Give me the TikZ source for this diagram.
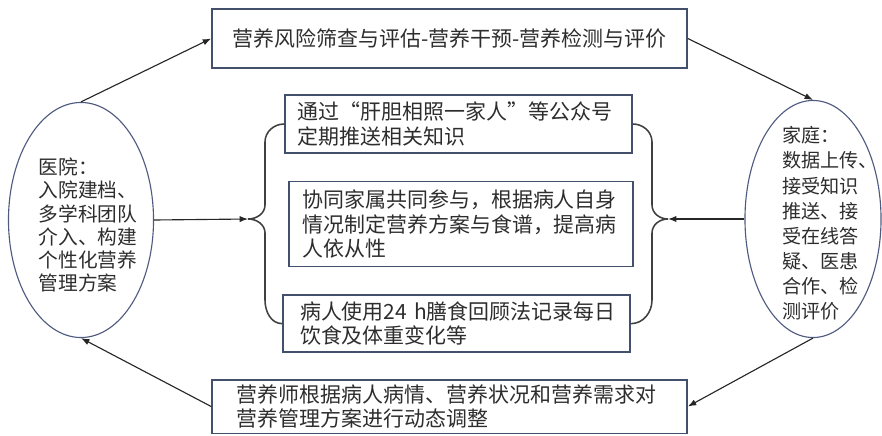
\documentclass[tikz,border=0pt]{standalone}
\usepackage{fontspec}
\newfontfamily\cjk{Noto Sans CJK SC}
\usepackage{tikz}
\usetikzlibrary{positioning, shapes.geometric, arrows.meta}

\definecolor{boxline}{RGB}{66,80,108}
\definecolor{ovalline}{RGB}{78,90,128}
\definecolor{txt}{RGB}{45,45,45}

\begin{document}
\begin{tikzpicture}[
    x=0.025cm, y=-0.025cm,
    box/.style={draw=boxline, line width=1.1pt, align=left, text=txt,
        font=\cjk\fontsize{14.9}{17.5}\selectfont},
    oval/.style={draw=ovalline, line width=0.8pt, ellipse, inner sep=0pt},
    ovaltext/.style={align=left, text=txt, inner sep=0pt},
    brace/.style={draw=black!75, line width=1.1pt},
    arrow/.style={-{Latex[length=6pt,width=4.5pt]}, line width=0.8pt, black!85},
]
\useasboundingbox (0,0) rectangle (882,435);

% Top process
\node[box, align=center, minimum width=11.875cm, minimum height=1.475cm] (top) at (449.5,38.5)
    {营养风险筛查与评估-营养干预-营养检测与评价};

% Bottom adjustment
\node[box, text width=10.625cm, inner xsep=0.625cm, minimum height=1.325cm] (bottom) at (449.5,406.5)
    {营养师根据病人病情、营养状况和营养需求对\\营养管理方案进行动态调整};

% Middle measures
\node[box, text width=8.025cm, inner xsep=0.325cm, minimum height=1.45cm] (push) at (458.5,124)
    {通过“肝胆相照一家人”等公众号\\定期推送相关知识};
\node[box, text width=7.92cm, inner xsep=0.34cm, minimum height=2.125cm,
    below=0.675cm of push, xshift=0.0625cm] (family)
    {协同家属共同参与，根据病人自身\\情况制定营养方案与食谱，提高病\\人依从性};
\node[box, text width=7.825cm, inner xsep=0.425cm, minimum height=1.425cm,
    below=0.675cm of family, xshift=-0.11cm] (record)
    {病人使用24~h膳食回顾法记录每日\\饮食及体重变化等};

% Hospital and home
\node[oval, minimum width=3.625cm, minimum height=5.875cm] (hosp) at (81,220) {};
\node[ovaltext, font=\cjk\fontsize{14}{16.4}\selectfont] (hospt) at (88,225)
    {医院：\\入院建档、\\多学科团队\\介入、构建\\个性化营养\\管理方案};
\node[oval, minimum width=3.4cm, minimum height=5.925cm] (home) at (813,219) {};
\node[ovaltext, font=\cjk\fontsize{13.6}{17.9}\selectfont] (homet) at (830,223.5)
    {家庭：\\数据上传、\\接受知识\\推送、接\\受在线答\\疑、医患\\合作、检\\测评价};

% Braces round the measures
\coordinate (ltip) at (248,219);
\coordinate (rtip) at (668,219);
\draw[brace] (push.west) to[out=180,in=90] (265,142) -- (265,205)
    to[out=-90,in=0] (ltip) to[out=0,in=90] (265,233) -- (265,300)
    to[out=-90,in=180] (record.west);
\draw[brace] (push.east) to[out=0,in=90] (652,142) -- (652,205)
    to[out=-90,in=180] (rtip) to[out=180,in=90] (652,233) -- (652,300)
    to[out=-90,in=0] (record.east);

% Cycle arrows
\draw[arrow] (hosp.north) -- (top.west);
\draw[arrow] (top.east) -- (home.north);
\draw[arrow] (home.south) -- (bottom.east);
\draw[arrow] (bottom.west) -- (hosp.south);
\draw[arrow] (hosp.east) -- (ltip);
\draw[arrow] (home.west) -- (rtip);

\end{tikzpicture}
\end{document}
